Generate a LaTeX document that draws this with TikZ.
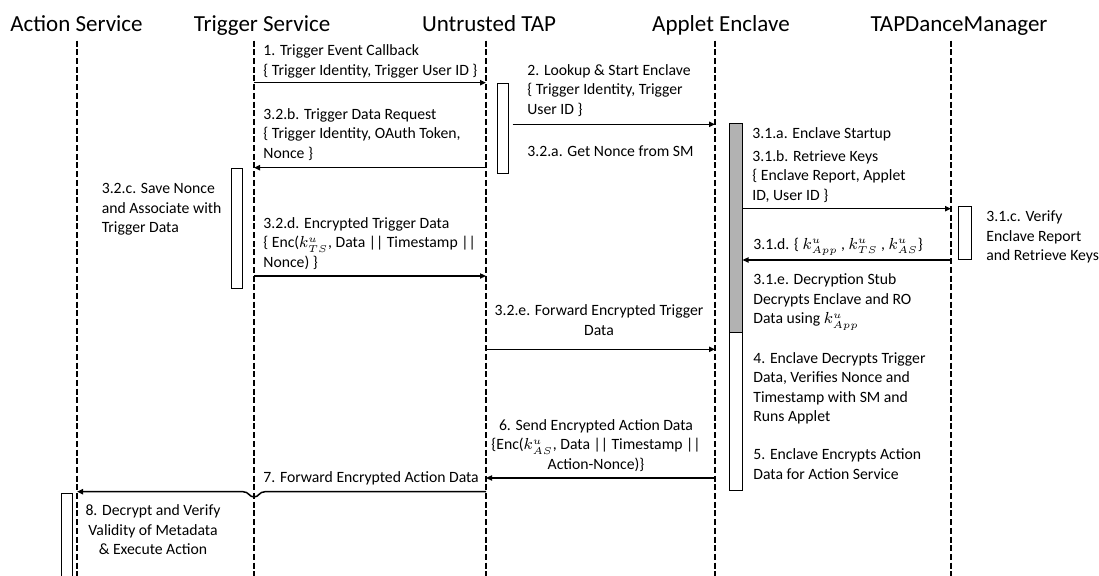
\documentclass[tikz,border=0pt]{standalone}
\usepackage{fontspec}
\setmainfont{Carlito}
\usetikzlibrary{arrows.meta,fit}
\newcommand{\kk}[1]{\smash{$k^{u}_{#1}$}}
\begin{document}
\begin{tikzpicture}[x=0.5pt,y=-0.5pt,
  title/.style={font=\fontsize{11.5}{14}\selectfont, inner sep=0, anchor=base},
  lbl/.style={font=\fontsize{7.85}{9.7}\selectfont, inner sep=0, anchor=base west, align=left},
  clbl/.style={font=\fontsize{7.85}{9.7}\selectfont, inner sep=0, anchor=base, align=center},
  life/.style={line width=1pt, dash pattern=on 3pt off 1.35pt},
  msg/.style={line width=0.75pt, -{Triangle[length=3pt,width=2.6pt]}},
  actbox/.style={draw, line width=0.5pt, fill=white, inner sep=0pt},
  greybar/.style={draw, line width=0.5pt, fill=black!30, inner sep=0pt}
]
\useasboundingbox (0,0) rectangle (1099,576);

% headers
\node[title] (asH)  at (76.5,32) {Action Service};
\node[title] (tsH)  at (262,32) {Trigger Service};
\node[title] (utH)  at (489,32) {Untrusted TAP};
\node[title] (aeH)  at (721,32) {Applet Enclave};
\node[title] (tdmH) at (959,32) {TAPDanceManager};

% lifelines
\coordinate (asT) at (77,40.7);   \coordinate (asB) at (77,576);
\coordinate (tsT) at (254,40.7);  \coordinate (tsB) at (254,576);
\coordinate (utT) at (486,40.7);  \coordinate (utB) at (486,576);
\coordinate (aeT) at (715,40.7);  \coordinate (aeB) at (715,576);
\coordinate (tdmT) at (951,40.7); \coordinate (tdmB) at (951,576);
\foreach \l in {as,ts,ut,ae,tdm} \draw[life] (\l T) -- (\l B);

% activation boxes
\coordinate (ut1) at (497,83.3);   \coordinate (ut2) at (508,174);
\node[actbox, fit=(ut1)(ut2)] (utbox) {};
\coordinate (ts1) at (231,168.7);  \coordinate (ts2) at (242,288.7);
\node[actbox, fit=(ts1)(ts2)] (tsbox) {};
\coordinate (ae1) at (729,123.3);  \coordinate (ae2) at (742,491);
\node[actbox, fit=(ae1)(ae2)] (aebar) {};
\coordinate (ae3) at (742,332.3);
\node[greybar, fit=(ae1)(ae3)] (aegrey) {};
\coordinate (tdm1) at (958.3,206.7); \coordinate (tdm2) at (971,259.7);
\node[actbox, fit=(tdm1)(tdm2)] (tdmbox) {};
\coordinate (as1) at (61.7,493.3); \coordinate (as2) at (72.3,576);
\fill[white] (as1) rectangle (as2);
\draw[line width=0.5pt] (as1 |- as2) -- (as1) -- (as2 |- as1) -- (as2);

% message heights
\coordinate (y1) at (0,82.7);
\coordinate (y2) at (0,124.3);
\coordinate (y32b) at (0,167.7);
\coordinate (y32d) at (0,276);
\coordinate (y31b) at (0,208.7);
\coordinate (y31d) at (0,260);
\coordinate (y32e) at (0,349.3);
\coordinate (y6) at (0,478);
\coordinate (y7) at (0,491.7);
\coordinate (hopR) at (265,491.7);
\coordinate (hopM) at (254,497);
\coordinate (hopL) at (243,491.7);

% messages
\draw[msg] (tsT |- y1) -- (utT |- y1);
\draw[msg] ([xshift=2pt]utbox.east |- y2) -- (aeT |- y2);
\draw[msg] (utT |- y32b) -- (tsT |- y32b);
\draw[msg] (tsT |- y32d) -- (utT |- y32d);
\draw[msg] (aebar.east |- y31b) -- (tdmT |- y31b);
\draw[msg] (tdmT |- y31d) -- (aebar.east |- y31d);
\draw[msg] (utT |- y32e) -- (aeT |- y32e);
\draw[msg] (aeT |- y6) -- (utT |- y6);
\draw[msg] (utT |- y7) -- (hopR) .. controls +(-6,0) and +(5,0) .. (hopM)
  .. controls +(-5,0) and +(6,0) .. (hopL) -- (asT |- y7);

% labels (anchor = baseline of last line)
\node[lbl] (l1) at (263,75.1) {1. Trigger Event Callback\\\{ Trigger Identity, Trigger User ID \}};
\node[lbl] (l2) at (527,114.1) {2. Lookup \& Start Enclave\\\{ Trigger Identity, Trigger\\User ID \}};
\node[lbl] (l32a) at (527,157) {3.2.a. Get Nonce from SM};
\node[lbl] (l32b) at (263,158.1) {3.2.b. Trigger Data Request\\\{ Trigger Identity, OAuth Token,\\Nonce \}};
\node[lbl] (l32c) at (101.4,232.8) {3.2.c. Save Nonce\\and Associate with\\Trigger Data};
\node[lbl] (l32d) at (263,267.1) {3.2.d. Encrypted Trigger Data\\\{ Enc(\kk{TS}, Data || Timestamp ||\\Nonce) \}};
\node[lbl] (l31a) at (752,138.3) {3.1.a. Enclave Startup};
\node[lbl] (l31b) at (752,200.1) {3.1.b. Retrieve Keys\\\{ Enclave Report, Applet\\ID, User ID \}};
\node[lbl] (l31c) at (986,260.8) {3.1.c. Verify\\Enclave Report\\and Retrieve Keys};
\node[lbl] (l31d) at (753,249.3) {3.1.d. \{ \kk{App} , \kk{TS} , \kk{AS}\}};
\node[lbl] (l31e) at (753,323.8) {3.1.e. Decryption Stub\\Decrypts Enclave and RO\\Data using \kk{App}};
\node[clbl] (l32e) at (599,335.4) {3.2.e. Forward Encrypted Trigger\\Data};
\node[lbl] (l4) at (753,421.5) {4. Enclave Decrypts Trigger\\Data, Verifies Nonce and\\Timestamp with SM and\\Runs Applet};
\node[lbl] (l5) at (753,479.4) {5. Enclave Encrypts Action\\Data for Action Service};
\node[clbl] (l6) at (596,469.1) {6. Send Encrypted Action Data\\\{Enc(\kk{AS}, Data || Timestamp ||\\Action-Nonce)\}};
\node[lbl] (l7) at (263,482.7) {7. Forward Encrypted Action Data};
\node[clbl] (l8) at (153,554.5) {8. Decrypt and Verify\\Validity of Metadata\\\& Execute Action};
\end{tikzpicture}
\end{document}
